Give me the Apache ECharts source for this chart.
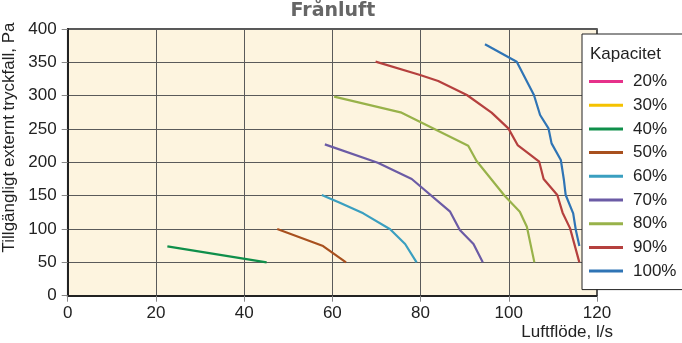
<!DOCTYPE html>
<html>
<head>
<meta charset="utf-8">
<script src="https://cdn.jsdelivr.net/npm/echarts@6/dist/echarts.min.js"></script>
<style>html,body{margin:0;padding:0;background:#fff}#c{width:682px;height:343px}</style>
</head>
<body>
<div id="c"></div>
<script>
const titleText = 'Frånluft';
const xName = 'Luftflöde, l/s';
const yName = 'Tillgängligt externt tryckfall, Pa';
const legendTitle = 'Kapacitet';
const seriesNames = ['20%', '30%', '40%', '50%', '60%', '70%', '80%', '90%', '100%'];
const seriesColors = ['#e6318a', '#f5c200', '#0f8f4a', '#a8501e', '#3a9fc0', '#6b5ba5', '#98b24a', '#b5403e', '#2f74b5'];

const s20 = [];
const s30 = [];
const s40 = [[22.6, 74], [45.1, 50]];
const s50 = [[47.5, 100], [57.9, 74.5], [63.1, 50]];
const s60 = [[57.6, 151], [61.7, 139.5], [67.0, 123.5], [73.1, 99.6], [76.5, 77.5], [79.1, 50]];
const s70 = [[58.3, 227], [70.3, 199.5], [78.0, 175], [86.7, 126], [88.9, 98.5], [92.0, 77.5], [94.1, 50]];
const s80 = [[60.4, 298.5], [75.7, 274.5], [90.8, 225], [92.7, 202], [99.1, 149.5], [102.5, 126], [104.1, 103.5], [105.8, 50]];
const s90 = [[69.8, 351], [79.9, 331], [84.0, 322], [90.5, 301], [96.1, 274.5], [99.9, 251], [102.0, 226], [106.9, 201], [107.9, 175], [111.0, 151], [112.2, 124.5], [113.9, 101], [116.0, 50]];
const s100 = [[94.6, 377], [101.8, 351], [105.7, 301], [107.1, 271], [109.0, 251], [109.7, 228.5], [111.8, 203.5], [112.5, 173.5], [112.9, 151], [114.6, 123.5], [115.2, 98.5], [116.0, 74.5]];
const seriesData = [s20, s30, s40, s50, s60, s70, s80, s90, s100];

const chart = echarts.init(document.getElementById('c'), null, {renderer: 'canvas'});
const narrow = "'Liberation Sans Narrow', 'Liberation Sans', Arial, sans-serif";
const regular = "'Liberation Sans', Arial, sans-serif";

chart.setOption({
  animation: false,
  title: [
    {text: titleText, left: 333, textAlign: 'center', top: 0, padding: 0,
     textStyle: {fontFamily: "'DejaVu Sans', sans-serif", fontWeight: 'bold', fontSize: 19, color: '#666', lineHeight: 22}},
    {text: legendTitle, left: 590, top: 46, padding: 0,
     textStyle: {fontFamily: regular, fontWeight: 'normal', fontSize: 17, color: '#222'}}
  ],
  grid: {left: 67.7, right: 85, top: 29, bottom: 47.3, show: true, backgroundColor: '#fdf4df', borderColor: '#222', borderWidth: 1.5},
  legend: {
    orient: 'vertical', left: 582, top: 34,
    backgroundColor: '#fff', borderColor: '#222', borderWidth: 1,
    padding: [39, 20, 10, 7],
    itemWidth: 34, itemHeight: 3, itemGap: 6.7, icon: 'rect',
    textStyle: {fontFamily: regular, fontSize: 17, color: '#222', lineHeight: 17, padding: [0, 0, 0, 5]},
    data: seriesNames
  },
  xAxis: {
    type: 'value', min: 0, max: 120, interval: 20,
    name: xName, nameLocation: 'end', nameGap: 16,
    nameTextStyle: {fontFamily: narrow, fontSize: 17, color: '#222', align: 'right', verticalAlign: 'top', padding: [28, 0, 0, 0]},
    axisLine: {show: true, onZero: false, lineStyle: {color: '#222', width: 2}},
    axisTick: {show: true, length: 6, lineStyle: {color: '#888'}},
    axisLabel: {fontFamily: narrow, fontSize: 17, color: '#222', margin: 9},
    splitLine: {show: true, lineStyle: {color: '#5a5a5a', width: 1}}
  },
  yAxis: {
    type: 'value', min: 0, max: 400, interval: 50,
    axisLine: {show: true, onZero: false, lineStyle: {color: '#222', width: 2}},
    axisTick: {show: true, length: 6, lineStyle: {color: '#888'}},
    axisLabel: {fontFamily: narrow, fontSize: 17, color: '#222', margin: 11},
    splitLine: {show: true, lineStyle: {color: '#5a5a5a', width: 1}}
  },
  graphic: [{
    type: 'text', x: 9, y: 137.5, rotation: Math.PI / 2,
    style: {text: yName, align: 'center', verticalAlign: 'middle', fontFamily: regular, fontSize: 17, fill: '#222'}
  }],
  series: seriesNames.map((n, i) => ({
    name: n, type: 'line', data: seriesData[i], showSymbol: false, symbol: 'none',
    lineStyle: {color: seriesColors[i], width: 2.2}, itemStyle: {color: seriesColors[i]}
  }))
});
</script>
</body>
</html>
